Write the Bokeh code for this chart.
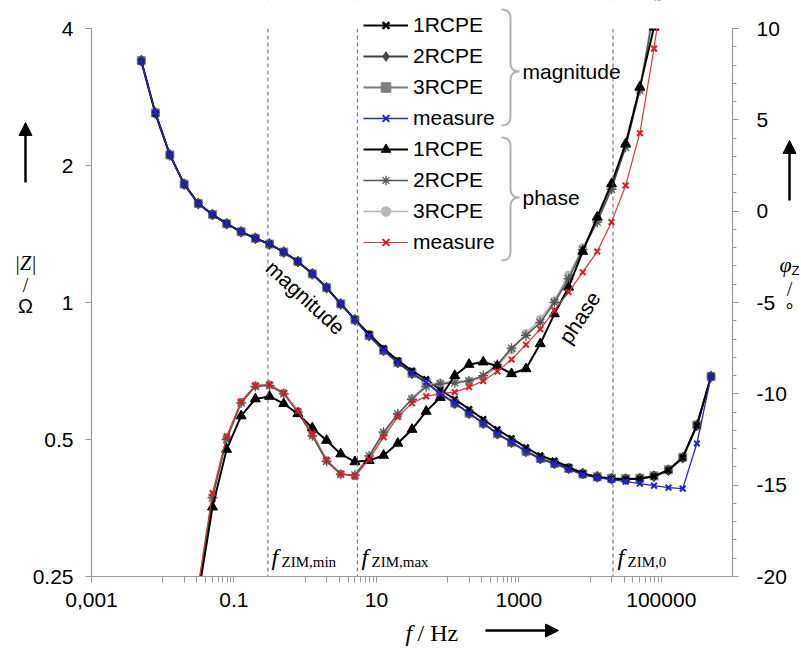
from bokeh.plotting import figure
from bokeh.models import (Range1d, LinearAxis, FixedTicker, LinearScale, Span, Label,
                          Legend, LegendItem, PolyAnnotation, Arrow, NormalHead, BoxAnnotation)
from bokeh.embed import file_html
from bokeh.resources import INLINE

# ---------------- data ----------------
freq = [0.005, 0.0079, 0.0126, 0.02, 0.0316, 0.05, 0.079, 0.126, 0.2, 0.316,
        0.5, 0.79, 1.26, 2.0, 3.16, 5.0, 7.9, 12.6, 20.0, 31.6,
        50.0, 79.0, 126.0, 200.0, 316.0, 500.0, 790.0, 1260.0, 2000.0, 3160.0,
        5000.0, 7900.0, 12600.0, 20000.0, 31600.0, 50000.0, 79000.0, 126000.0,
        200000.0, 316000.0, 500000.0]

mag_measure = [3.39, 2.61, 2.11, 1.82, 1.65, 1.56, 1.49, 1.43, 1.384, 1.344,
               1.291, 1.230, 1.156, 1.078, 0.993, 0.916, 0.846, 0.785, 0.738, 0.699,
               0.667, 0.631, 0.601, 0.571, 0.543, 0.515, 0.493, 0.471, 0.453, 0.442,
               0.430, 0.418, 0.412, 0.408, 0.404, 0.400, 0.396, 0.392, 0.390, 0.490, 0.688]
mag_1rcpe = [3.39, 2.60, 2.11, 1.82, 1.65, 1.56, 1.49, 1.43, 1.384, 1.344,
             1.291, 1.230, 1.156, 1.078, 0.993, 0.918, 0.853, 0.793, 0.746, 0.708,
             0.678, 0.643, 0.613, 0.583, 0.554, 0.526, 0.503, 0.480, 0.461, 0.449,
             0.435, 0.421, 0.413, 0.410, 0.409, 0.410, 0.415, 0.428, 0.456, 0.537, 0.688]
mag_2rcpe = [3.40, 2.61, 2.11, 1.82, 1.65, 1.56, 1.49, 1.43, 1.384, 1.344,
             1.291, 1.230, 1.156, 1.078, 0.993, 0.916, 0.846, 0.785, 0.738, 0.699,
             0.667, 0.631, 0.601, 0.571, 0.543, 0.515, 0.493, 0.471, 0.454, 0.443,
             0.432, 0.421, 0.414, 0.410, 0.409, 0.410, 0.415, 0.428, 0.456, 0.537, 0.688]
mag_3rcpe = [3.40, 2.61, 2.11, 1.82, 1.65, 1.56, 1.49, 1.43, 1.384, 1.344,
             1.291, 1.230, 1.156, 1.078, 0.993, 0.916, 0.846, 0.785, 0.738, 0.699,
             0.667, 0.631, 0.601, 0.571, 0.543, 0.515, 0.493, 0.471, 0.454, 0.443,
             0.432, 0.420, 0.414, 0.411, 0.410, 0.411, 0.416, 0.429, 0.457, 0.538, 0.688]

phase_freq = freq[4:38]
ph_measure = [-20.5, -15.43, -12.33, -10.42, -9.54, -9.49, -9.94, -10.95, -12.18, -13.61,
              -14.37, -14.52, -13.59, -12.37, -11.27, -10.51, -10.14, -9.99, -9.91, -9.63,
              -9.30, -8.77, -8.12, -7.31, -6.46, -5.43, -4.43, -3.34, -2.21, -0.60,
              1.41, 4.27, 8.90, 14.5]
ph_1rcpe = [-21.0, -16.20, -13.04, -11.21, -10.28, -10.14, -10.54, -11.09, -11.87, -12.55,
            -13.29, -13.72, -13.65, -13.37, -12.71, -11.95, -10.96, -10.2, -9.0, -8.39,
            -8.26, -8.48, -8.90, -8.63, -7.26, -5.62, -4.16, -2.2, -0.33, 1.50,
            3.69, 6.79, 10.07, 14.5]
ph_2rcpe = [-20.7, -15.7, -12.5, -10.5, -9.6, -9.55, -10.0, -11.0, -12.3, -13.7,
            -14.4, -14.45, -13.4, -12.1, -11.1, -10.3, -9.6, -9.45, -9.4, -9.3,
            -9.0, -8.4, -7.5, -6.8, -6.1, -5.0, -3.7, -2.1, -0.6, 1.2,
            3.5, 6.6, 11.0, 16.0]
ph_3rcpe = [-20.6, -15.6, -12.4, -10.45, -9.55, -9.5, -9.95, -10.95, -12.25, -13.65,
            -14.4, -14.5, -13.5, -12.2, -11.15, -10.25, -9.5, -9.4, -9.3, -9.3,
            -9.1, -8.5, -7.6, -6.7, -5.9, -4.9, -3.5, -2.0, -0.5, 1.3,
            3.6, 6.7, 11.2, 16.2]

f_zim = [0.3, 5.4, 21000.0]
f_zim_sub = ["ZIM,min", "ZIM,max", "ZIM,0"]

x_lim = (0.001, 1e6)
y_lim = (0.25, 4)
phi_lim = (-20, 10)
x_ticks = [0.001, 0.1, 10, 1000, 100000]
x_tick_labels = ["0,001", "0.1", "10", "1000", "100000"]
y_ticks = [0.25, 0.5, 1, 2, 4]
y_tick_labels = ["0.25", "0.5", "1", "2", "4"]
phi_ticks = [-20, -15, -10, -5, 0, 5, 10]
phi_tick_labels = ["-20", "-15", "-10", "-5", "0", "5", "10"]
legend_labels = ["1RCPE", "2RCPE", "3RCPE", "measure", "1RCPE", "2RCPE", "3RCPE", "measure"]

# ---------------- layout (pixels of the plotting box inside the canvas) ----------------
FL, FR, FT, FB = 91, 732, 28, 576
W, H = 801, 649
DX = 9 / (FR - FL)       # decades per pixel
DY = 4 / (FB - FT)       # doublings per pixel
DP = 30 / (FB - FT)      # degrees per pixel


def X(px):
    return 10 ** (-3 + DX * (px - FL))


def Y(py):
    return 2 ** (2 - DY * (py - FT))


x_start, x_end = X(0), X(W)
y_start, y_end = Y(H), Y(0)
phi_start = phi_lim[0] - DP * (H - FB)
phi_end = phi_lim[1] + DP * FT

p = figure(width=W, height=H, x_axis_type="log", y_axis_type="log",
           x_range=Range1d(x_start, x_end), y_range=Range1d(y_start, y_end),
           output_backend="svg", toolbar_location=None, title=None,
           min_border=0, min_border_left=0, min_border_right=0,
           min_border_top=0, min_border_bottom=0)
p.outline_line_color = None
p.grid.visible = False
p.background_fill_color = "white"
p.border_fill_color = "white"

p.extra_y_ranges = {"phi": Range1d(phi_start, phi_end)}
p.extra_y_scales = {"phi": LinearScale()}

AX = "#9a9a9a"


def style_axis(ax, maj_out=6, min_out=0):
    ax.axis_line_color = AX
    ax.axis_line_width = 1.2
    ax.major_tick_line_color = AX
    ax.minor_tick_line_color = AX
    ax.major_tick_in = 0
    ax.major_tick_out = maj_out
    ax.minor_tick_in = 0
    ax.minor_tick_out = min_out
    ax.major_label_text_font = "Liberation Sans"
    ax.major_label_text_font_size = "21px"
    ax.major_label_text_color = "black"


xa = p.xaxis[0]
minor_x = [m * 10.0 ** e for e in (-2, 0, 2, 4) for m in range(1, 10)]
xa.ticker = FixedTicker(ticks=x_ticks, minor_ticks=minor_x)
xa.major_label_overrides = dict(zip(x_ticks, x_tick_labels))
xa.fixed_location = y_lim[0]
xa.bounds = x_lim
style_axis(xa, 6, 6)
xa.major_label_standoff = 10

ya = p.yaxis[0]
ya.ticker = FixedTicker(ticks=y_ticks, minor_ticks=[])
ya.major_label_overrides = dict(zip(y_ticks, y_tick_labels))
ya.fixed_location = x_lim[0]
ya.bounds = y_lim
style_axis(ya, 6, 0)
ya.major_label_standoff = 12

ra = LinearAxis(y_range_name="phi")
ra.ticker = FixedTicker(ticks=phi_ticks, minor_ticks=list(range(-20, 11)))
ra.major_label_overrides = dict(zip(phi_ticks, phi_tick_labels))
ra.fixed_location = x_lim[1]
ra.bounds = phi_lim
style_axis(ra, 6, 4)
ra.major_label_standoff = 18
p.add_layout(ra, "right")


# ---------------- series ----------------
def series(x, y, color, lcolor, marker, size, lw, mlw=1.0, rng="default"):
    kw = {} if rng == "default" else {"y_range_name": rng}
    l = p.line(x, y, line_color=lcolor, line_width=lw, **kw)
    s = p.scatter(x, y, marker=marker, size=size, line_color=color,
                  fill_color=color, line_width=mlw, **kw)
    return [l, s]


r_m3 = series(freq, mag_3rcpe, "#7f7f7f", "#7a7a7a", "square", 8, 1.8)
r_m2 = series(freq, mag_2rcpe, "#454545", "#404040", "diamond", 11, 1.8)
r_m1 = series(freq, mag_1rcpe, "#000000", "#000000", "x", 8, 2.0, mlw=2.6)
r_p3 = series(phase_freq, ph_3rcpe, "#b8b8b8", "#b0b0b0", "circle", 8, 1.6, rng="phi")
r_p2 = series(phase_freq, ph_2rcpe, "#555555", "#555555", "asterisk", 10, 1.5, mlw=1.3, rng="phi")
r_p1 = series(phase_freq, ph_1rcpe, "#000000", "#000000", "triangle", 10, 2.0, rng="phi")
r_pm = series(phase_freq, ph_measure, "#e8141e", "#d83a3a", "x", 8, 1.2, mlw=2.0, rng="phi")
r_mm = series(freq, mag_measure, "#1c1cf0", "#2a2ab0", "x", 8, 1.3, mlw=2.0)

# ---------------- dashed frequency markers ----------------
for f in f_zim:
    p.add_layout(Span(location=f, dimension="height", line_color="#55647e",
                      line_dash="4 3", line_width=1, level="glyph"))

# white masks: curves stop at the plotting box edges
p.add_layout(BoxAnnotation(left=x_start, right=x_end, bottom=y_start, top=y_lim[0],
                           fill_color="white", fill_alpha=1, line_alpha=0, level="glyph"))
p.add_layout(BoxAnnotation(left=x_start, right=x_end, bottom=y_lim[1], top=y_end,
                           fill_color="white", fill_alpha=1, line_alpha=0, level="glyph"))

# ---------------- legend ----------------
all_r = [r_m1, r_m2, r_m3, r_mm, r_p1, r_p2, r_p3, r_pm]
legend = Legend(items=[LegendItem(label=lab, renderers=r) for lab, r in zip(legend_labels, all_r)],
                location=(363, H - 254), orientation="vertical",
                glyph_width=45, glyph_height=24, label_height=24, spacing=7,
                label_standoff=5, padding=0, margin=0,
                label_text_font="Liberation Sans", label_text_font_size="21px",
                label_text_color="black",
                background_fill_alpha=0, border_line_alpha=0)
p.add_layout(legend, "center")


# ---------------- braces ----------------
def qbez(a, c, b, n=8):
    pts = []
    for i in range(n + 1):
        t = i / n
        pts.append(((1 - t) ** 2 * a[0] + 2 * (1 - t) * t * c[0] + t ** 2 * b[0],
                    (1 - t) ** 2 * a[1] + 2 * (1 - t) * t * c[1] + t ** 2 * b[1]))
    return pts


def brace(x0, xm, xt, yt, ym, yb, r=9):
    pts = []
    pts += qbez((x0, yt), (xm, yt), (xm, yt + r))
    pts += qbez((xm, ym - r), (xm, ym), (xt, ym))
    pts += qbez((xt, ym), (xm, ym), (xm, ym + r))
    pts += qbez((xm, yb - r), (xm, yb), (x0, yb))
    path = pts + pts[::-1]
    p.add_layout(PolyAnnotation(xs=[X(a) for a, _ in path], ys=[Y(b) for _, b in path],
                                fill_alpha=0, line_color="black", line_width=2))


brace(501, 510, 519, 9, 71, 125)
brace(501, 510, 519, 137, 197, 260)


def lab(px, py, text, size, font="Liberation Sans", style="normal",
        align="left", baseline="alphabetic", angle=0.0):
    p.add_layout(Label(x=X(px), y=Y(py), text=text, text_font=font,
                       text_font_style=style, text_font_size=f"{size}px",
                       text_align=align, text_baseline=baseline, angle=angle,
                       text_color="black"))


def arrow(x0, y0, x1, y1):
    p.add_layout(Arrow(end=NormalHead(size=13, fill_color="black", line_color="black"),
                       x_start=X(x0), y_start=Y(y0), x_end=X(x1), y_end=Y(y1),
                       line_width=2.5, line_color="black"))


lab(522, 71, "magnitude", 21, baseline="middle")
lab(522, 197, "phase", 21, baseline="middle")
lab(305, 297, "magnitude", 21, align="center", baseline="middle", angle=-0.74)
lab(579, 317, "phase", 21, align="center", baseline="middle", angle=0.99)

for px, sub in zip([271, 361, 617], f_zim_sub):
    lab(px, 556, "f", 24, font="Liberation Serif", style="italic")
    lab(px + 10, 561, sub, 15, font="Liberation Serif")

# x axis title
lab(405, 632, "f", 24, font="Liberation Serif", style="italic", baseline="middle")
lab(417, 632, "/ Hz", 24, font="Liberation Serif", baseline="middle")
arrow(485, 630, 558, 630)

# left axis title
arrow(25, 182, 25, 122)
lab(25, 262, "|Z|", 20, font="Liberation Serif", style="italic", align="center", baseline="middle")
lab(25, 284, "/", 20, font="Liberation Serif", align="center", baseline="middle")
lab(25, 305, "Ω", 20, font="Liberation Sans", align="center", baseline="middle")

# right axis title
arrow(789, 200, 789, 140)
lab(785, 264, "φ", 22, font="Liberation Serif", style="italic", align="center", baseline="middle")
lab(791, 270, "Z", 13, font="Liberation Sans", baseline="middle")
lab(789, 288, "/", 20, font="Liberation Serif", align="center", baseline="middle")
lab(789, 310, "°", 20, font="Liberation Sans", align="center", baseline="middle")

open("out.html", "w").write(file_html(p, INLINE))
